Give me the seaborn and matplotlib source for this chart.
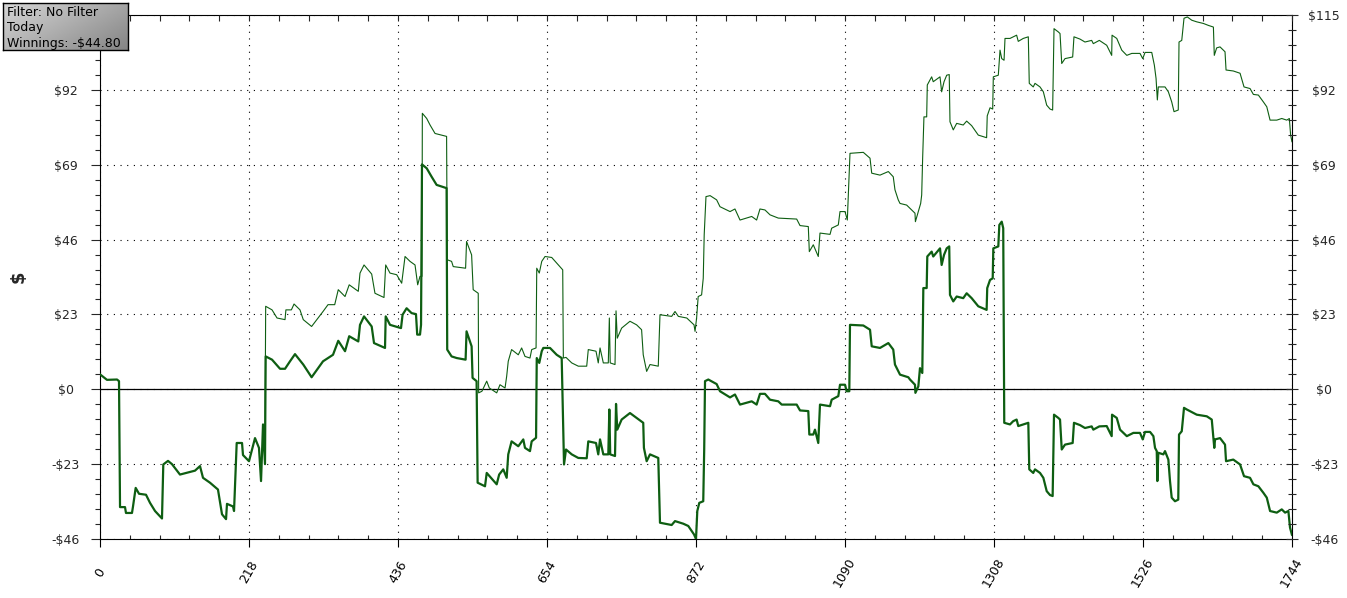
import numpy as np
import matplotlib
matplotlib.use("Agg")
import matplotlib.pyplot as plt
from matplotlib.ticker import MultipleLocator
import seaborn as sns

# hand number vs cumulative winnings ($)
win_x = [
    0, 10.2, 24.9, 27.8, 29.3, 36.6, 38.0, 46.8, 48.3, 52.2,
    57.1, 67.3, 73.2, 80.5, 90.7, 92.6, 99.5, 105.3, 117.0, 139.0,
    146.3, 150.7, 160.9, 172.6, 178.5, 184.4, 185.8, 194.6, 196.1, 200.0,
    207.8, 209.2, 218.0, 226.8, 232.6, 235.6, 238.5, 241.4, 242.4, 251.7,
    263.4, 270.7, 278.0, 285.3, 297.4, 309.6, 326.3, 340.9, 348.6, 358.5,
    364.6, 377.9, 380.4, 386.3, 397.5, 400.9, 417.0, 418.0, 424.3, 440.4,
    442.7, 448.6, 455.9, 462.3, 464.1, 468.2, 469.7, 471.1, 478.0, 485.2,
    492.5, 507.1, 508.0, 514.4, 521.9, 534.9, 536.3, 543.7, 545.1, 551.0,
    552.5, 563.3, 565.8, 580.4, 584.0, 590.0, 595.0, 597.3, 602.2, 612.0,
    619.3, 621.8, 629.1, 631.6, 638.0, 639.0, 642.7, 646.3, 648.6, 658.4,
    668.2, 675.5, 678.9, 681.8, 690.2, 699.8, 712.1, 714.4, 725.7, 729.0,
    731.6, 736.4, 743.7, 745.2, 746.5, 753.5, 755.0, 756.8, 763.2, 775.4,
    785.1, 794.8, 795.8, 799.8, 804.7, 816.8, 819.3, 836.4, 841.3, 853.4,
    860.7, 869.1, 872.0, 873.9, 876.8, 882.6, 884.0, 885.2, 890.0, 902.2,
    907.1, 921.8, 929.0, 936.4, 953.5, 960.7, 965.6, 972.9, 980.3, 992.4,
    997.4, 1019.3, 1024.2, 1036.3, 1037.8, 1043.6, 1046.1, 1050.9, 1053.4, 1068.1,
    1070.5, 1080.2, 1082.7, 1090.0, 1092.4, 1096.3, 1097.3, 1116.8, 1126.6, 1129.1,
    1141.2, 1153.4, 1160.6, 1163.1, 1170.5, 1182.6, 1185.1, 1192.4, 1193.0, 1197.3,
    1199.7, 1203.1, 1204.6, 1209.5, 1210.4, 1216.8, 1219.1, 1229.0, 1231.4, 1234.9,
    1238.8, 1242.5, 1243.6, 1248.4, 1253.4, 1263.0, 1268.0, 1275.3, 1285.0, 1297.2,
    1298.1, 1302.2, 1306.1, 1307.0, 1314.3, 1315.8, 1319.3, 1321.5, 1323.0, 1331.4,
    1336.1, 1341.1, 1343.5, 1358.2, 1359.6, 1365.4, 1368.0, 1375.3, 1380.2, 1385.1,
    1390.0, 1393.8, 1395.8, 1402.1, 1404.6, 1407.1, 1411.9, 1423.1, 1425.0, 1433.8,
    1441.1, 1450.9, 1453.3, 1462.1, 1472.9, 1480.2, 1480.7, 1487.6, 1492.4, 1502.3,
    1511.9, 1521.6, 1525.6, 1529.0, 1536.3, 1541.2, 1543.6, 1546.1, 1547.0, 1548.4,
    1555.8, 1558.2, 1563.1, 1565.5, 1568.0, 1572.8, 1577.6, 1578.7, 1582.7, 1586.0,
    1590.0, 1604.6, 1619.3, 1626.6, 1630.3, 1631.4, 1638.7, 1646.0, 1647.5, 1658.1,
    1668.0, 1673.8, 1682.6, 1687.5, 1694.8, 1702.1, 1707.1, 1711.9, 1721.7, 1729.0,
    1733.9, 1738.7, 1741.1, 1744.0,
]
win_y = [
    4.6, 2.9, 3.0, 2.5, -36.2, -36.2, -38.0, -38.0, -36.0, -30.3,
    -32.1, -32.4, -34.9, -37.4, -39.7, -23.1, -22.0, -23.0, -26.2, -25.0,
    -23.6, -27.2, -28.7, -30.8, -38.4, -39.9, -35.2, -36.0, -37.4, -16.5,
    -16.5, -20.2, -22.1, -15.0, -18.0, -28.2, -10.8, -23.0, 10.1, 9.1,
    6.3, 6.3, 8.6, 10.8, 7.6, 3.7, 8.6, 10.6, 14.9, 11.7,
    16.3, 14.7, 19.8, 22.4, 19.3, 14.2, 12.7, 22.4, 19.8, 18.8,
    22.9, 24.9, 23.4, 23.1, 16.8, 16.8, 19.8, 69.1, 67.9, 65.3,
    62.8, 61.8, 12.2, 10.1, 9.6, 9.1, 17.8, 13.2, 3.5, 2.5,
    -28.7, -29.8, -25.7, -29.2, -26.2, -24.6, -27.2, -20.0, -16.0, -17.5,
    -15.4, -18.0, -19.0, -16.0, -14.9, 9.6, 8.1, 11.7, 12.7, 12.7,
    10.6, 9.6, -23.1, -18.5, -20.0, -21.1, -21.2, -16.0, -16.5, -20.0,
    -15.4, -20.0, -20.0, -6.2, -20.0, -20.5, -4.5, -12.4, -9.3, -7.3,
    -8.8, -10.3, -18.0, -22.1, -20.0, -21.1, -41.0, -41.7, -40.5, -41.3,
    -42.0, -44.6, -46.0, -37.4, -34.9, -34.4, -18.5, 2.5, 3.0, 1.6,
    -0.6, -2.5, -1.6, -4.7, -3.7, -4.7, -1.4, -1.4, -3.2, -3.7,
    -4.7, -4.7, -6.5, -6.7, -13.9, -13.9, -12.4, -16.5, -4.7, -5.2,
    -3.2, -2.1, 1.4, 1.4, -0.6, -0.6, 19.8, 19.6, 18.3, 13.2,
    12.7, 14.2, 12.2, 7.6, 4.5, 3.7, 3.0, 1.4, -1.1, 0.9,
    6.5, 5.0, 31.1, 31.1, 40.8, 42.3, 40.8, 43.3, 38.2, 41.3,
    43.3, 43.9, 29.0, 27.0, 28.5, 28.0, 29.5, 28.0, 25.5, 24.4,
    31.1, 33.6, 34.1, 43.3, 43.9, 50.5, 51.5, 49.5, -10.3, -10.8,
    -9.8, -9.3, -11.3, -10.3, -24.6, -25.7, -24.6, -25.7, -27.2, -31.3,
    -32.5, -32.8, -7.8, -8.8, -9.3, -18.5, -17.0, -16.5, -10.3, -11.0,
    -11.9, -11.4, -12.4, -11.4, -11.3, -14.4, -7.8, -8.8, -12.4, -14.4,
    -13.4, -13.4, -15.4, -13.1, -13.1, -14.4, -18.0, -19.0, -28.2, -19.5,
    -20.0, -19.0, -21.6, -28.2, -33.3, -34.4, -33.9, -13.9, -12.9, -5.7,
    -6.2, -7.8, -8.3, -9.3, -18.0, -15.4, -15.0, -17.0, -22.1, -21.6,
    -23.1, -26.7, -27.2, -29.2, -29.8, -31.8, -33.3, -37.4, -37.9, -36.9,
    -37.9, -37.4, -42.5, -44.8,
]

# second (thin) line, same hands
alt_x = [
    238.5, 241.4, 242.4, 251.7, 259.0, 270.7, 272.0, 280.0, 283.9, 292.6,
    297.4, 309.6, 326.3, 333.6, 343.4, 348.6, 358.5, 364.6, 377.9, 380.4,
    386.3, 397.5, 402.3, 415.5, 418.0, 424.3, 434.1, 441.4, 446.3, 453.6,
    460.9, 464.8, 468.2, 471.1, 471.6, 478.0, 482.9, 490.2, 507.1, 508.0,
    514.4, 516.8, 534.9, 536.3, 543.7, 546.0, 553.4, 554.0, 558.8, 565.8,
    569.6, 580.4, 585.2, 592.6, 595.0, 597.3, 602.2, 612.0, 616.9, 621.8,
    629.1, 631.6, 638.0, 639.0, 642.7, 646.3, 651.1, 660.9, 670.6, 677.0,
    677.9, 681.8, 690.2, 699.8, 712.1, 714.4, 725.7, 729.0, 731.6, 736.4,
    743.7, 745.2, 746.5, 753.5, 755.0, 756.8, 763.2, 775.4, 785.1, 792.4,
    794.8, 799.8, 804.7, 816.8, 819.3, 836.4, 841.3, 846.2, 858.5, 869.1,
    870.6, 872.9, 875.2, 880.2, 882.6, 884.0, 886.6, 892.6, 902.2, 907.1,
    921.8, 929.0, 936.4, 953.5, 960.7, 965.6, 972.9, 980.3, 992.4, 1019.3,
    1024.2, 1036.3, 1037.8, 1043.6, 1050.9, 1053.4, 1068.1, 1070.5, 1080.2, 1082.7,
    1090.0, 1093.4, 1097.3, 1116.8, 1126.6, 1129.1, 1141.2, 1153.4, 1160.6, 1163.1,
    1167.9, 1170.5, 1180.2, 1185.1, 1192.4, 1193.0, 1197.3, 1200.7, 1202.2, 1203.6,
    1205.5, 1209.5, 1210.4, 1216.8, 1219.1, 1229.0, 1231.4, 1234.9, 1238.8, 1242.5,
    1243.6, 1248.4, 1253.4, 1263.0, 1268.0, 1275.3, 1285.0, 1297.2, 1298.1, 1302.2,
    1306.1, 1307.0, 1314.3, 1316.8, 1319.3, 1322.7, 1324.1, 1331.4, 1336.1, 1341.1,
    1343.5, 1350.8, 1358.2, 1359.6, 1365.4, 1368.0, 1375.3, 1380.2, 1385.1, 1390.0,
    1393.8, 1395.8, 1402.1, 1404.6, 1407.1, 1411.9, 1423.1, 1425.0, 1433.8, 1441.1,
    1450.9, 1453.3, 1462.1, 1472.9, 1480.2, 1480.7, 1487.6, 1494.9, 1502.3, 1509.6,
    1521.6, 1525.6, 1529.0, 1538.8, 1542.6, 1545.1, 1547.0, 1548.4, 1558.2, 1563.1,
    1568.0, 1571.4, 1577.6, 1578.7, 1582.7, 1586.0, 1590.9, 1597.3, 1604.6, 1614.4,
    1621.7, 1629.0, 1630.3, 1633.8, 1638.7, 1646.0, 1647.5, 1658.1, 1668.0, 1673.8,
    1682.6, 1687.5, 1694.8, 1702.1, 1707.1, 1711.9, 1721.7, 1729.0, 1736.3, 1740.1,
    1742.0, 1744.0,
]
alt_y = [
    -10.8, -15.0, 25.5, 24.4, 21.9, 21.4, 24.4, 24.4, 26.2, 24.4,
    21.4, 19.3, 23.9, 26.0, 26.0, 30.6, 28.5, 32.1, 30.1, 35.7,
    38.2, 35.4, 29.5, 28.2, 38.2, 35.7, 35.2, 32.6, 40.8, 39.3,
    38.2, 32.1, 34.7, 34.7, 84.8, 83.2, 81.2, 78.6, 77.7, 39.8,
    39.3, 37.7, 37.2, 45.4, 41.3, 30.6, 29.5, -1.1, -0.6, 2.5,
    0.4, -1.1, 1.4, 0.4, 4.0, 8.6, 12.2, 10.6, 12.7, 10.1,
    9.6, 12.2, 12.7, 37.2, 35.7, 39.3, 40.8, 40.5, 38.2, 36.7,
    9.6, 9.8, 8.1, 7.1, 7.1, 12.2, 11.7, 8.1, 12.7, 8.1,
    8.1, 21.9, 8.1, 7.6, 24.1, 15.7, 18.8, 20.9, 19.8, 18.3,
    10.6, 5.5, 7.6, 7.1, 22.9, 22.4, 23.9, 22.4, 21.9, 19.8,
    17.8, 21.9, 28.5, 29.0, 34.1, 47.5, 59.2, 59.5, 58.2, 56.1,
    54.6, 55.4, 52.0, 53.1, 52.0, 55.4, 55.1, 53.6, 52.6, 52.3,
    50.3, 50.0, 42.3, 44.4, 40.8, 48.0, 47.6, 49.5, 50.5, 54.6,
    54.6, 52.0, 72.5, 72.8, 71.0, 66.4, 65.8, 66.9, 65.3, 61.3,
    58.2, 57.1, 56.6, 55.6, 54.1, 51.5, 54.6, 57.1, 59.7, 71.0,
    83.7, 83.7, 93.5, 96.0, 94.5, 96.0, 91.4, 94.5, 96.5, 96.7,
    82.2, 79.7, 81.7, 81.2, 82.4, 81.0, 78.1, 77.3, 84.0, 86.5,
    86.1, 96.0, 96.5, 104.2, 101.6, 101.1, 107.8, 107.8, 108.3, 108.8,
    106.9, 107.8, 108.3, 94.0, 92.9, 94.0, 92.9, 91.4, 87.3, 86.1,
    85.8, 110.8, 109.8, 109.3, 100.1, 101.6, 102.1, 108.3, 107.6, 106.7,
    107.2, 106.2, 107.2, 105.7, 102.6, 108.8, 107.8, 104.2, 102.6, 103.2,
    103.2, 101.6, 103.5, 103.5, 99.6, 95.5, 88.9, 92.9, 92.9, 91.4,
    88.3, 85.3, 85.8, 106.7, 107.2, 114.0, 114.4, 113.4, 112.9, 112.4,
    111.8, 111.3, 102.6, 104.9, 105.2, 103.7, 98.1, 97.8, 97.1, 92.9,
    92.4, 90.6, 90.4, 88.3, 86.8, 82.7, 82.7, 83.2, 82.7, 83.2,
    78.1, 76.0,
]

x_ticks = [0, 218, 436, 654, 872, 1090, 1308, 1526, 1744]
y_ticks = [-46, -23, 0, 23, 46, 69, 92, 115]
y_labels = ["-\\$46", "-\\$23", "\\$0", "\\$23", "\\$46", "\\$69", "\\$92", "\\$115"]
info_lines = ["Filter: No Filter", "Today", "Winnings: -\\$44.80"]

green = "#0e5e12"

sns.set_style("white")
plt.rcParams["font.family"] = ["DejaVu Sans"]

W, H = 1347, 598
fig = plt.figure(figsize=(W / 100, H / 100), dpi=100)
ax = fig.add_axes([100 / W, 59 / H, 1192 / W, 524 / H])

# the lines
sns.lineplot(x=alt_x, y=alt_y, ax=ax, estimator=None, sort=False,
             color=green, linewidth=0.8, zorder=4)
sns.lineplot(x=win_x, y=win_y, ax=ax, estimator=None, sort=False,
             color=green, linewidth=1.6, zorder=5)

ax.set_xlim(0, 1744)
ax.set_ylim(-46, 115)
ax.axhline(0, color="black", lw=0.9, zorder=3)

dots = (0, (1, 5))
ax.set_xticks(x_ticks)
ax.set_xticklabels([str(v) for v in x_ticks], rotation=60, ha="center",
                   va="center", rotation_mode="anchor")
ax.xaxis.set_minor_locator(MultipleLocator(43.6))
# the top-left label sits under the info box in the reference
ax.set_yticks(y_ticks)
ax.set_yticklabels(y_labels[:-1] + [""], ha="center")
ax.yaxis.set_minor_locator(MultipleLocator(4.6))
ax.grid(True, which="major", color="black", linestyle=dots, linewidth=0.8)

ax.tick_params(axis="x", which="major", direction="out", length=6, width=0.8,
               pad=18, labelsize=9, colors="black")
ax.tick_params(axis="x", which="minor", direction="in", length=3, width=0.8,
               bottom=True)
ax.tick_params(axis="y", which="major", direction="out", length=6.5, width=0.8,
               pad=18, labelsize=9, right=False, left=True)
ax.tick_params(axis="y", which="minor", direction="out", length=3.3, width=0.8,
               left=True, right=False)
for s in ax.spines.values():
    s.set_color("black")
    s.set_linewidth(0.8)
ax.set_xlabel("")
ax.set_ylabel("\\$", fontsize=13, fontweight="bold")
ax.yaxis.set_label_coords(-72 / 1192, 0.5)

# right-hand axis labels
ax2 = ax.twinx()
ax2.set_ylim(-46, 115)
ax2.set_yticks(y_ticks)
ax2.set_yticklabels(y_labels, ha="center")
ax2.yaxis.set_minor_locator(MultipleLocator(4.6))
ax2.tick_params(axis="y", which="major", direction="inout", length=8.5, width=0.8,
                pad=19, labelsize=9)
ax2.tick_params(axis="y", which="minor", direction="inout", length=5.5, width=0.8)
for s in ax2.spines.values():
    s.set_visible(False)

# top edge ticks
ax3 = ax.twiny()
ax3.set_xlim(0, 1744)
ax3.set_xticks(x_ticks)
ax3.xaxis.set_minor_locator(MultipleLocator(43.6))
ax3.tick_params(axis="x", which="both", direction="in", length=4, width=0.8,
                labeltop=False, top=True)
for s in ax3.spines.values():
    s.set_visible(False)

# info box in the top-left corner
bax = fig.add_axes([3 / W, 1 - 50 / H, 125 / W, 47 / H])
gx, gy = np.meshgrid(np.linspace(0, 1, 200), np.linspace(0, 1, 60))
grad = 0.84 - 0.32 * (0.6 * gx + 0.4 * gy)
bax.imshow(grad, cmap="gray", vmin=0, vmax=1, aspect="auto",
           extent=(0, 1, 0, 1), origin="upper")
bax.set_xticks([])
bax.set_yticks([])
for s in bax.spines.values():
    s.set_color("black")
    s.set_linewidth(1.0)
for i, line in enumerate(info_lines):
    fig.text(7 / W, 1 - (13 + 15 * i) / H, line, fontsize=9, color="black",
             va="center", ha="left")

fig.savefig("out.png", dpi=100)
